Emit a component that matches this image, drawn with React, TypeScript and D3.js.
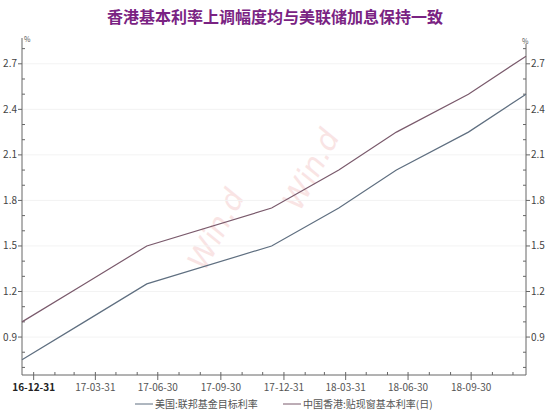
import React from "react";
import * as d3 from "d3";

const dates = ["2016-12-14", "2017-03-15", "2017-06-14", "2017-12-13", "2018-03-21", "2018-06-13", "2018-09-26", "2018-12-19"];
const fedRate = [0.75, 1.0, 1.25, 1.5, 1.75, 2.0, 2.25, 2.5];
const hkRate = [1.0, 1.25, 1.5, 1.75, 2.0, 2.25, 2.5, 2.75];
const xTickLabels = ["16-12-31", "17-03-31", "17-06-30", "17-09-30", "17-12-31", "18-03-31", "18-06-30", "18-09-30"];
const yTicks = [0.9, 1.2, 1.5, 1.8, 2.1, 2.4, 2.7];
const seriesNames = ["美国:联邦基金目标利率", "中国香港:贴现窗基本利率(日)"];
const title = "香港基本利率上调幅度均与美联储加息保持一致";

const W = 550, H = 413;
const L = 22, R = 526, T = 38, B = 375;
const parse = d3.timeParse("%Y-%m-%d");
const parseTick = d3.timeParse("%y-%m-%d");

export default function App() {
  const x = d3.scaleTime().domain([parse(dates[0])!, parse(dates[dates.length - 1])!]).range([L, R]);
  const y = d3.scaleLinear().domain([0.65, 2.87]).range([B, T]);
  const pts = dates.map((d) => parse(d)!);
  const line = d3.line<[Date, number]>().x((d) => x(d[0])).y((d) => y(d[1]));
  const fedData = pts.map((d, i) => [d, fedRate[i]] as [Date, number]);
  const hkData = pts.map((d, i) => [d, hkRate[i]] as [Date, number]);
  const minorY = d3.range(7, 29).map((v) => v / 10).filter((v) => v >= 0.65 && v <= 2.87 && !yTicks.some((t) => Math.abs(t - v) < 1e-6));
  const monthEnds = d3.timeMonths(new Date(2016, 11, 1), new Date(2018, 11, 1)).map((d) => d3.timeDay.offset(d3.timeMonth.offset(d, 1), -1)).filter((d) => x(d) >= L && x(d) <= R);
  const majorX = xTickLabels.map((s) => parseTick(s)!);
  const fedColor = "#5f6f80";
  const hkColor = "#7a5a6c";
  const axisColor = "#666";
  const font = "'Noto Sans CJK SC', 'DejaVu Sans', sans-serif";
  return (
    <svg width={W} height={H} style={{ position: "absolute", left: 0, top: 0, background: "#fff" }} fontFamily={font}>
      <rect width={W} height={H} fill="#fff" />
      <text x={275} y={23} textAnchor="middle" fontSize={16} fontWeight="bold" fill="#7a2383">{title}</text>
      {/* watermark */}
      <text x={205} y={272} fontSize={30} fill="#f9e4e4" fontStyle="italic" transform="rotate(-62 205 272)" fontFamily="'DejaVu Sans', sans-serif">Win.d</text>
      <text x={300} y={212} fontSize={30} fill="#f9e4e4" fontStyle="italic" transform="rotate(-62 300 212)" fontFamily="'DejaVu Sans', sans-serif">Win.d</text>
      {/* gridlines */}
      {yTicks.map((t) => (
        <line key={"g" + t} x1={L} x2={R} y1={y(t)} y2={y(t)} stroke="#f3f3f3" strokeWidth={1} />
      ))}
      {/* axes */}
      <line x1={L} x2={L} y1={T} y2={B} stroke={axisColor} strokeWidth={1} />
      <line x1={R} x2={R} y1={T + 6} y2={B} stroke={axisColor} strokeWidth={1} />
      <line x1={L} x2={R} y1={B} y2={B} stroke={axisColor} strokeWidth={1} />
      <text x={L + 2} y={T + 4} fontSize={7} fill="#555">%</text>
      <text x={R - 4} y={T + 6} fontSize={7} fill="#555">%</text>
      {yTicks.map((t) => (
        <g key={"y" + t}>
          <line x1={L - 4} x2={L} y1={y(t)} y2={y(t)} stroke={axisColor} />
          <line x1={R} x2={R + 4} y1={y(t)} y2={y(t)} stroke={axisColor} />
          <text x={L - 5} y={y(t) + 3.5} fontSize={10} textAnchor="end" fill="#444">{t.toFixed(1)}</text>
          <text x={R + 5} y={y(t) + 3.5} fontSize={10} textAnchor="start" fill="#444">{t.toFixed(1)}</text>
        </g>
      ))}
      {minorY.map((t) => (
        <g key={"my" + t}>
          <line x1={L} x2={L + 3} y1={y(t)} y2={y(t)} stroke={axisColor} />
          <line x1={R - 3} x2={R} y1={y(t)} y2={y(t)} stroke={axisColor} />
        </g>
      ))}
      {monthEnds.map((d, i) => (
        <line key={"mx" + i} x1={x(d)} x2={x(d)} y1={B - 3} y2={B} stroke={axisColor} />
      ))}
      {majorX.map((d, i) => (
        <g key={"x" + i}>
          <line x1={x(d)} x2={x(d)} y1={B} y2={B + 5} stroke={axisColor} />
          <text x={x(d)} y={B + 16} fontSize={10} textAnchor="middle" fill={i === 0 ? "#222" : "#555"} fontWeight={i === 0 ? "bold" : "normal"}>{xTickLabels[i]}</text>
        </g>
      ))}
      {/* lines */}
      <path d={line(hkData)!} fill="none" stroke={hkColor} strokeWidth={1.2} />
      <path d={line(fedData)!} fill="none" stroke={fedColor} strokeWidth={1.2} />
      {/* legend */}
      <line x1={135} x2={153} y1={404} y2={404} stroke={fedColor} strokeWidth={1} />
      <text x={155} y={408} fontSize={10} fill="#555">{seriesNames[0]}</text>
      <line x1={283} x2={301} y1={404} y2={404} stroke={hkColor} strokeWidth={1} />
      <text x={303} y={408} fontSize={10} fill="#555">{seriesNames[1]}</text>
    </svg>
  );
}
